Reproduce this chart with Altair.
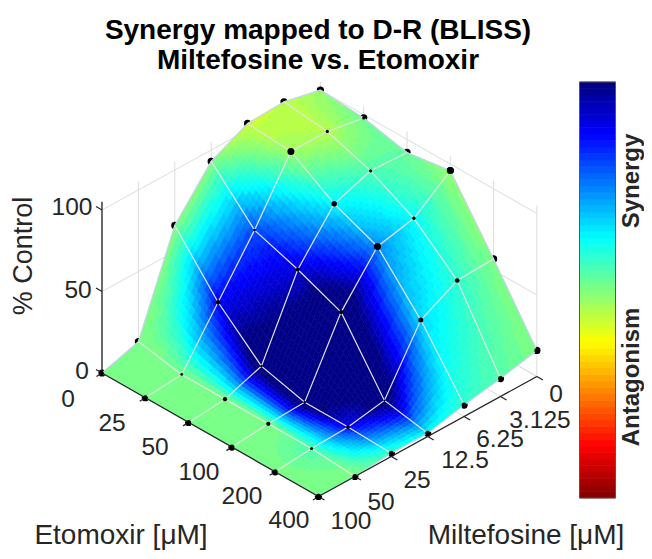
import altair as alt
import numpy as np

# ---- data ----
etomoxir_labels = ["0", "25", "50", "100", "200", "400"]
miltefosine_labels = ["0", "3.125", "6.25", "12.5", "25", "50", "100"]
z_labels = [0, 50, 100]

# % control, rows = Etomoxir dose, columns = Miltefosine dose (0 ... 100)
z_e0 = [100, 105, 104, 93, 66, 7, 0]
z_e25 = [98, 102, 102, 66, 34, 2, 0]
z_e50 = [92, 93, 85, 57, 10, 2, 0]
z_e100 = [96, 79, 74, 46, 3, 2, 0]
z_e200 = [57, 56, 44, 7, 3, 2, 0]
z_e400 = [16, 11, 7, 2, 2, 0, 0]

# synergy colour value (0 = antagonism, 1 = synergy, above 1 stays darkest), same layout
c_e0 = [0.48, 0.44, 0.43, 0.50, 0.50, 0.50, 0.50]
c_e25 = [0.52, 0.45, 0.47, 0.80, 0.88, 0.51, 0.50]
c_e50 = [0.53, 0.55, 0.63, 0.91, 1.08, 0.50, 0.50]
c_e100 = [0.48, 0.62, 0.74, 1.10, 1.08, 0.50, 0.50]
c_e200 = [0.50, 0.58, 0.66, 1.05, 0.88, 0.55, 0.50]
c_e400 = [0.50, 0.54, 0.58, 0.63, 0.57, 0.50, 0.50]

Z = np.array([z_e0, z_e25, z_e50, z_e100, z_e200, z_e400], float)
C = np.array([c_e0, c_e25, c_e50, c_e100, c_e200, c_e400], float)

# ---- styling / view parameters ----
DOT_AREA = np.array([
    [0, 0, 0, 0, 0, 0, 14],
    [10, 10, 49, 8, 20, 8, 25],
    [0, 10, 30, 15, 6, 18, 25],
    [49, 12, 49, 18, 6, 18, 25],
    [0, 22, 25, 4, 15, 10, 25],
    [25, 25, 25, 25, 25, 25, 30],
], float)
ORIGIN = (102.0, 373.0)     # floor corner Etomoxir 0 / Miltefosine 100
E_STEP = (43.3, 24.7)
M_STEP = (36.4, -20.0)      # towards lower Miltefosine
Z_PX = 1.63
ZMAX = 105
SUB = 12
FONT = "Liberation Sans"
INK = "#262626"


def proj(i, k, z=0.0):
    m = 6 - k
    return [ORIGIN[0] + E_STEP[0] * i + M_STEP[0] * m,
            ORIGIN[1] + E_STEP[1] * i + M_STEP[1] * m - Z_PX * z]


def jet_hex(t):
    idx = min(int(np.clip(t, 0, 1) * 64), 63)
    x = 1 - (idx + 0.5) / 64
    r = np.clip(1.5 - abs(4 * x - 3), 0, 1)
    g = np.clip(1.5 - abs(4 * x - 2), 0, 1)
    b = np.clip(1.5 - abs(4 * x - 1), 0, 1)
    return "#%02x%02x%02x" % (int(r * 255), int(g * 255), int(b * 255))


def line(*pts):
    return {"type": "Feature", "properties": {},
            "geometry": {"type": "LineString", "coordinates": [list(p) for p in pts]}}


def poly(pts, color):
    ring = [list(p) for p in pts] + [list(pts[0])]
    return {"type": "Feature", "properties": {"color": color},
            "geometry": {"type": "Polygon", "coordinates": [ring]}}


nE, nM = Z.shape

# walls and floor grid
grid = []
for k in range(nM):
    grid.append(line(proj(0, k, 0), proj(0, k, ZMAX)))
    grid.append(line(proj(0, k, 0), proj(nE - 1, k, 0)))
for i in range(nE):
    grid.append(line(proj(i, 0, 0), proj(i, 0, ZMAX)))
    grid.append(line(proj(i, 0, 0), proj(i, nM - 1, 0)))
for zv in z_labels:
    grid.append(line(proj(0, nM - 1, zv), proj(0, 0, zv)))
    grid.append(line(proj(0, 0, zv), proj(nE - 1, 0, zv)))

# surface patches, back to front
patches = []
order = sorted(((i, k) for i in range(nE - 1) for k in range(nM - 1)), key=lambda a: a[0] + a[1])
for i, k in order:
    for a in range(SUB):
        for b in range(SUB):
            def corner(u, v):
                z = ((1 - u) * (1 - v) * Z[i, k] + u * (1 - v) * Z[i + 1, k]
                     + (1 - u) * v * Z[i, k + 1] + u * v * Z[i + 1, k + 1])
                return proj(i + u, k + v, z)
            u0, u1, v0, v1 = a / SUB, (a + 1) / SUB, b / SUB, (b + 1) / SUB
            um, vm = (u0 + u1) / 2, (v0 + v1) / 2
            t = ((1 - um) * (1 - vm) * C[i, k] + um * (1 - vm) * C[i + 1, k]
                 + (1 - um) * vm * C[i, k + 1] + um * vm * C[i + 1, k + 1])
            patches.append(poly([corner(u0, v0), corner(u1, v0), corner(u1, v1), corner(u0, v1)], jet_hex(t)))

# mesh
mesh = []
for i in range(1, nE - 1):
    mesh.append(line(*[proj(i, k, Z[i, k]) for k in range(nM)]))
for k in range(1, nM - 1):
    mesh.append(line(*[proj(i, k, Z[i, k]) for i in range(nE)]))
edge = [
    line(*[proj(0, k, Z[0, k]) for k in range(nM)]),
    line(*[proj(nE - 1, k, Z[nE - 1, k]) for k in range(nM)]),
    line(*[proj(i, 0, Z[i, 0]) for i in range(nE)]),
    line(*[proj(i, nM - 1, Z[i, nM - 1]) for i in range(nE)]),
]

# axes
axes = [
    line(proj(0, nM - 1), proj(nE - 1, nM - 1)),
    line(proj(nE - 1, nM - 1), proj(nE - 1, 0)),
    line(proj(0, nM - 1, 0), proj(0, nM - 1, ZMAX)),
]
for i in range(nE):
    p = proj(i, nM - 1)
    axes.append(line(p, [p[0] - 5.5, p[1] + 3.5]))
for k in range(nM):
    p = proj(nE - 1, k)
    axes.append(line(p, [p[0] + 6, p[1] + 3.5]))
for zv in z_labels:
    p = proj(0, nM - 1, zv)
    axes.append(line(p, [p[0] - 6, p[1] - 3.5]))

# colour bar
CB_X0, CB_X1, CB_Y0, CB_Y1 = 579.5, 615.5, 82.0, 498.0
cbar = []
for n in range(64):
    y0 = CB_Y1 - (CB_Y1 - CB_Y0) * n / 64
    y1 = CB_Y1 - (CB_Y1 - CB_Y0) * (n + 1) / 64
    cbar.append(poly([[CB_X0, y0], [CB_X1, y0], [CB_X1, y1], [CB_X0, y1]], jet_hex((n + 0.5) / 64)))
cbar_box = [line([CB_X0, CB_Y0], [CB_X1, CB_Y0], [CB_X1, CB_Y1], [CB_X0, CB_Y1], [CB_X0, CB_Y0])]

# dots
dots = []
for i in range(nE):
    for k in range(nM):
        x, y = proj(i, k, Z[i, k])
        dots.append({"lon": x, "lat": y, "area": float(DOT_AREA[i, k])})

# text
tick_e_pos = [(68, 400), (112, 424), (155, 448), (199, 473), (242, 497), (289, 521)]
tick_m_pos = [(556, 395), (540, 421), (500, 440), (465, 461), (417, 481), (381, 503), (351, 522)]
tick_z_pos = [(82, 372), (78, 291), (72, 208)]
ticks = []
for s, p in zip(etomoxir_labels, tick_e_pos):
    ticks.append({"t": s, "lon": p[0], "lat": p[1]})
for s, p in zip(miltefosine_labels, tick_m_pos):
    ticks.append({"t": s, "lon": p[0], "lat": p[1]})
for s, p in zip(z_labels, tick_z_pos):
    ticks.append({"t": str(s), "lon": p[0], "lat": p[1]})
labels = [
    {"t": "Etomoxir [μM]", "lon": 121, "lat": 536},
    {"t": "Miltefosine [μM]", "lon": 526, "lat": 536},
]
titles = [
    {"t": "Synergy mapped to D-R (BLISS)", "lon": 318, "lat": 31},
    {"t": "Miltefosine vs. Etomoxir", "lon": 318, "lat": 61},
]
side = [{"t": "Synergy", "lon": 632, "lat": 181}, {"t": "Antagonism", "lon": 632, "lat": 377}]
zlab = [{"t": "% Control", "lon": 24, "lat": 256}]

PROJ = dict(type="identity", scale=1, translate=[-8, -8])


def shapes(feats, **kw):
    return alt.Chart(alt.Data(values=feats)).mark_geoshape(filled=False, **kw).project(**PROJ)


def fills(feats, **kw):
    return (alt.Chart(alt.Data(values=feats)).mark_geoshape(strokeWidth=0.6, **kw)
            .encode(fill=alt.Fill("properties.color:N", scale=None),
                    stroke=alt.Stroke("properties.color:N", scale=None))
            .project(**PROJ))


def texts(rows, **kw):
    return (alt.Chart(alt.Data(values=rows))
            .mark_text(font=FONT, align="center", baseline="middle", **kw)
            .encode(longitude="lon:Q", latitude="lat:Q", text="t:N")
            .project(**PROJ))


dot_under = (alt.Chart(alt.Data(values=dots)).mark_circle(color="black", opacity=1, size=52)
             .encode(longitude="lon:Q", latitude="lat:Q").project(**PROJ))
dot_over = (alt.Chart(alt.Data(values=[d for d in dots if d["area"] > 0]))
            .mark_circle(color="black", opacity=1)
            .encode(longitude="lon:Q", latitude="lat:Q",
                    size=alt.Size("area:Q", scale=None, legend=None))
            .project(**PROJ))

chart = alt.layer(
    shapes(grid, stroke="#dcdcdc", strokeWidth=1),
    dot_under,
    fills(patches),
    shapes(edge, stroke="#cfcff2", strokeWidth=1.2),
    shapes(mesh, stroke="#e4e4e4", strokeWidth=1.2),
    shapes(axes, stroke=INK, strokeWidth=1.3),
    dot_over,
    fills(cbar),
    shapes(cbar_box, stroke="#555555", strokeWidth=1),
    texts(ticks, fontSize=24.5, color=INK),
    texts(labels, fontSize=28, color=INK),
    texts(titles, fontSize=28, fontWeight="bold", color="black"),
    texts(side, fontSize=24, fontWeight="bold", angle=270, color=INK),
    texts(zlab, fontSize=27, angle=270, color=INK),
).properties(width=636, height=543, padding=0, autosize="none").configure_view(stroke=None)

chart.save("out.html", embed_options={"renderer": "svg", "actions": False})
